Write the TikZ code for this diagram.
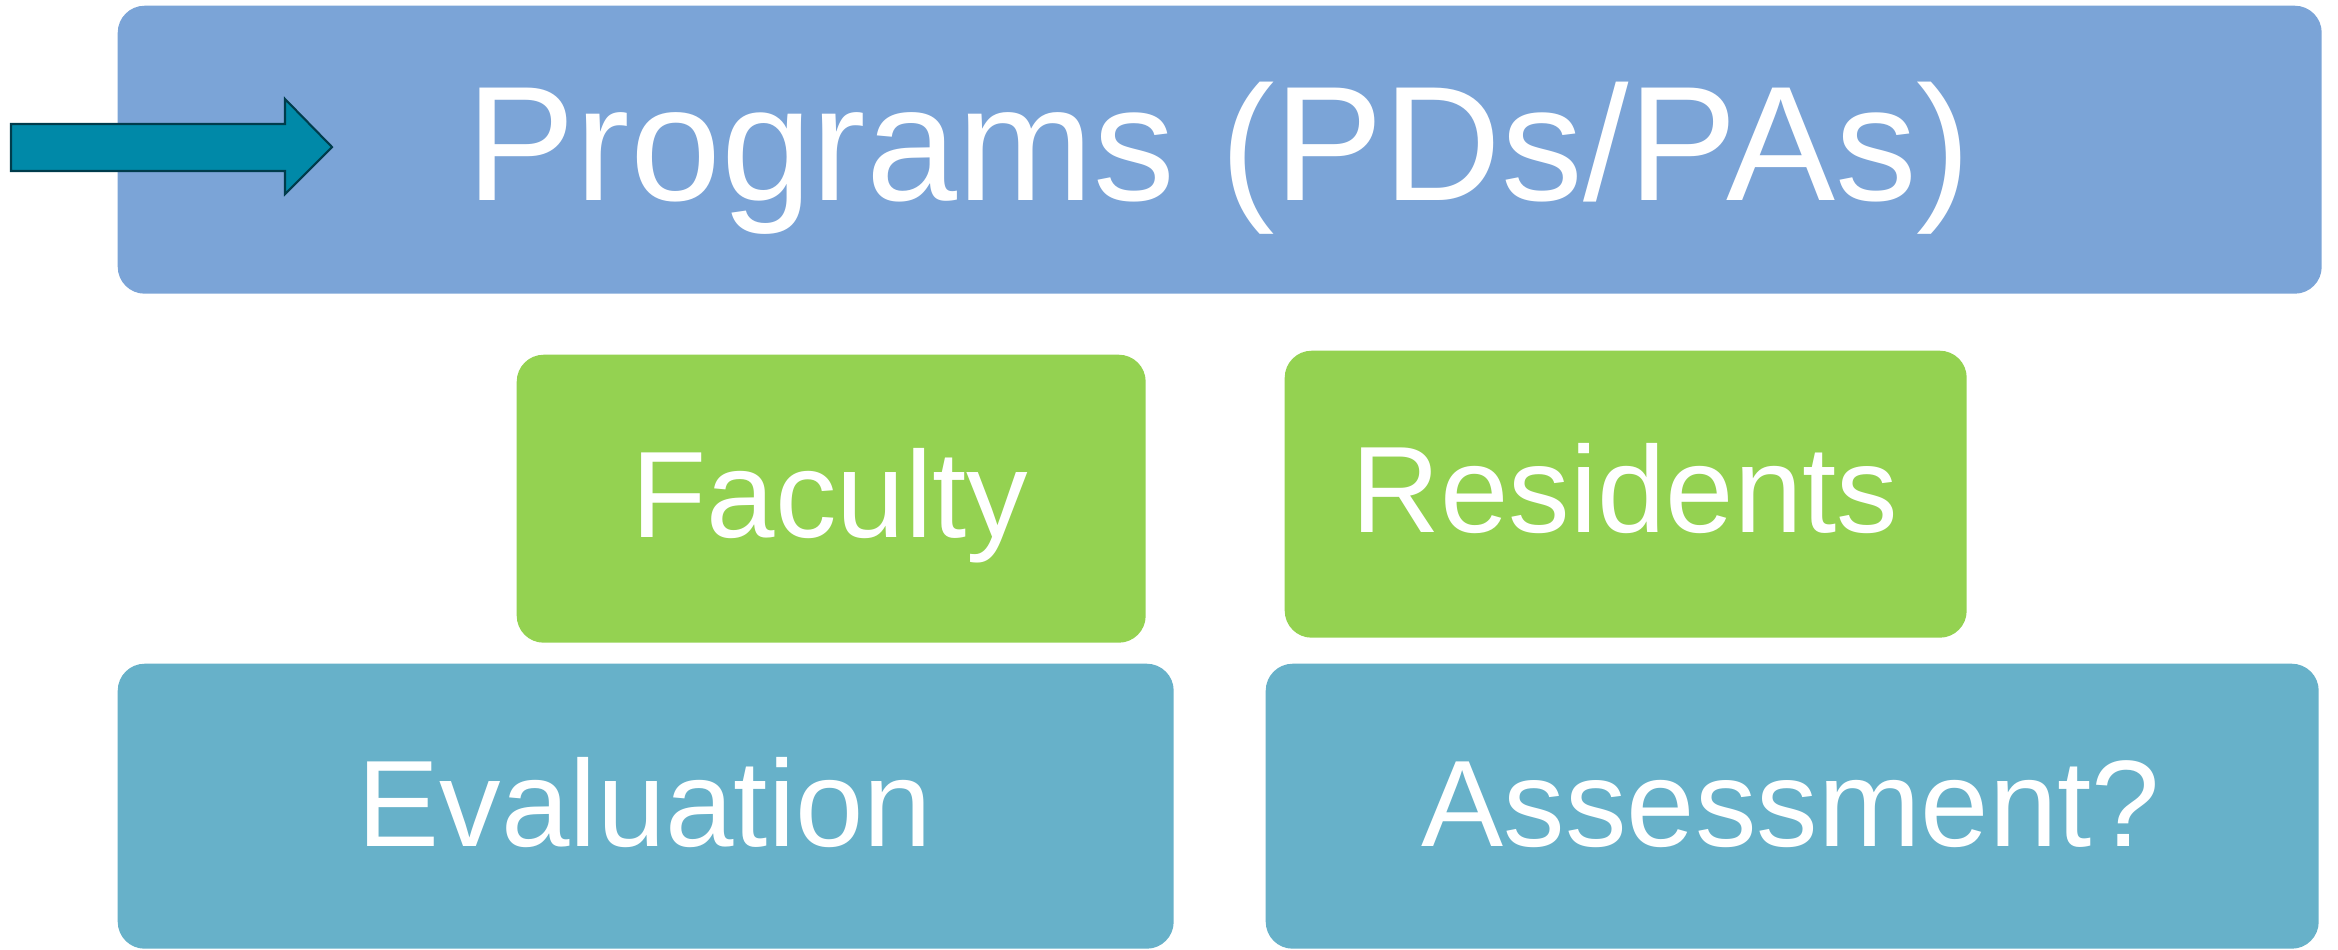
\documentclass[tikz,border=0pt]{standalone}
\usepackage{fontspec}
\setmainfont{Liberation Sans}
\definecolor{progblue}{RGB}{123,164,215}
\definecolor{leafgreen}{RGB}{148,210,81}
\definecolor{evalblue}{RGB}{103,177,201}
\definecolor{arrowfill}{RGB}{0,137,168}
\definecolor{arrowline}{RGB}{0,60,76}
\tikzset{
  panel/.style={rectangle, rounded corners=0.27cm, inner sep=0pt, draw=none, anchor=north west},
  bigtext/.style={text=white, anchor=base, inner sep=0pt, font=\fontsize{46.5}{56}\selectfont},
  midtext/.style={text=white, anchor=base, inner sep=0pt, font=\fontsize{35}{42}\selectfont},
  blockarrow/.style={fill=arrowfill, draw=arrowline, line width=0.6pt, line join=miter}
}
\begin{document}
\begin{tikzpicture}
\useasboundingbox (0,0) rectangle (23.38,-9.49);

% top banner
\node[panel, fill=progblue, minimum width=22.04cm, minimum height=2.88cm] (programs) at (1.17,-0.05) {};
\node[bigtext] (programs-label) at (12.19,-2.00) {Programs (PDs/PAs)};

% middle row
\node[panel, fill=leafgreen, minimum width=6.29cm, minimum height=2.88cm] (faculty) at (5.16,-3.54) {};
\node[midtext] (faculty-label) at (8.30,-5.37) {Faculty};
\node[panel, fill=leafgreen, minimum width=6.82cm, minimum height=2.87cm] (residents) at (12.84,-3.50) {};
\node[midtext] (residents-label) at (16.25,-5.32) {Residents};

% bottom row
\node[panel, fill=evalblue, minimum width=10.56cm, minimum height=2.85cm] (evaluation) at (1.17,-6.63) {};
\node[midtext] (evaluation-label) at (6.45,-8.46) {Evaluation};
\node[panel, fill=evalblue, minimum width=10.53cm, minimum height=2.85cm] (assessment) at (12.65,-6.63) {};
\node[midtext] (assessment-label) at (17.91,-8.46) {Assessment?};

% block arrow pointing into the banner
\draw[blockarrow] (0.11,-1.24) -- (2.85,-1.24) -- (2.85,-0.99) -- (3.32,-1.47)
  -- (2.85,-1.94) -- (2.85,-1.71) -- (0.11,-1.71) -- cycle;
\end{tikzpicture}
\end{document}
